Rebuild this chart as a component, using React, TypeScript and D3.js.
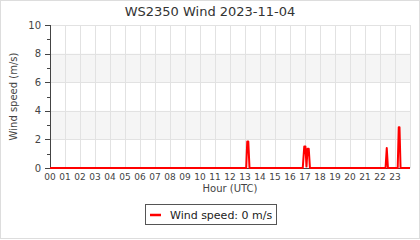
import React from "react";
import * as d3 from "d3";

const title = "WS2350 Wind 2023-11-04";
const hourTicks = ["00","01","02","03","04","05","06","07","08","09","10","11","12","13","14","15","16","17","18","19","20","21","22","23"];
const yMajorTicks = [0, 2, 4, 6, 8, 10];
const yMinorTicks = [1, 3, 5, 7, 9];
const bands = [[2, 4], [6, 8]];
// time (hours UTC) and wind speed (m/s)
const times = [0, 13.08, 13.15, 13.22, 13.3, 16.85, 16.95, 17.03, 17.1, 17.17, 17.25, 17.33, 22.37, 22.45, 22.53, 23.18, 23.25, 23.3, 23.37, 24];
const speeds = [0, 0, 1.85, 1.85, 0, 0, 1.5, 1.5, 0.1, 1.35, 1.35, 0, 0, 1.4, 0, 0, 2.85, 2.85, 0, 0];
const legendLabel = "Wind speed: 0 m/s";

const W = 420, H = 240;
const FONT = "DejaVu Sans, sans-serif";

export default function App() {
  const x = d3.scaleLinear().domain([0, 24]).range([50, 410]);
  const y = d3.scaleLinear().domain([0, 10]).range([168, 25]);
  const pts = times.map((t, i) => [t, speeds[i]] as [number, number]);
  const line = d3.line<[number, number]>().x(d => x(d[0])).y(d => y(d[1]));
  const gridHours = d3.range(0, 25);
  return (
    <svg width={W} height={H} style={{ position: "absolute", left: 0, top: 0, background: "#fff" }} fontFamily={FONT}>
      <rect x={0.5} y={0.5} width={W - 1} height={H - 2} fill="#fff" stroke="#ddd" />
      <text x={210} y={16} textAnchor="middle" fontSize={13} fill="#333">{title}</text>
      {bands.map((b, i) => (
        <rect key={i} x={x(0)} y={y(b[1])} width={x(24) - x(0)} height={y(b[0]) - y(b[1])} fill="#f5f5f5" />
      ))}
      {gridHours.map(h => (
        <line key={h} x1={Math.round(x(h)) + 0.5} x2={Math.round(x(h)) + 0.5} y1={y(10)} y2={y(0)} stroke="#e2e2e2" />
      ))}
      {yMajorTicks.map(v => (
        <line key={v} x1={x(0)} x2={x(24)} y1={Math.round(y(v)) + 0.5} y2={Math.round(y(v)) + 0.5} stroke="#e2e2e2" />
      ))}
      <line x1={50.5} x2={50.5} y1={y(10)} y2={y(0)} stroke="#444" />
      <line x1={x(0)} x2={x(24)} y1={168.5} y2={168.5} stroke="#444" />
      {yMajorTicks.map(v => (
        <g key={v}>
          <line x1={45} x2={50} y1={Math.round(y(v)) + 0.5} y2={Math.round(y(v)) + 0.5} stroke="#444" />
          <text x={41} y={y(v) + 3.5} textAnchor="end" fontSize={10} fill="#444">{v}</text>
        </g>
      ))}
      {yMinorTicks.map(v => (
        <line key={v} x1={47} x2={50} y1={Math.round(y(v)) + 0.5} y2={Math.round(y(v)) + 0.5} stroke="#444" />
      ))}
      {hourTicks.map((l, i) => (
        <text key={l} x={x(i)} y={180} textAnchor="middle" fontSize={9} fill="#444">{l}</text>
      ))}
      <text x={x(12)} y={192} textAnchor="middle" fontSize={10} fill="#444">Hour (UTC)</text>
      <text transform={`translate(17,${(y(0) + y(10)) / 2}) rotate(-90)`} textAnchor="middle" fontSize={10} fill="#444">Wind speed (m/s)</text>
      <path d={line(pts) || ""} fill="none" stroke="#ff0000" strokeWidth={2} strokeLinejoin="round" />
      <rect x={145.5} y={204.5} width={131} height={20} fill="#fff" stroke="#555" />
      <line x1={150} x2={161} y1={215} y2={215} stroke="#ff0000" strokeWidth={2.5} />
      <text x={170} y={218.5} fontSize={11} fill="#222">{legendLabel}</text>
    </svg>
  );
}
